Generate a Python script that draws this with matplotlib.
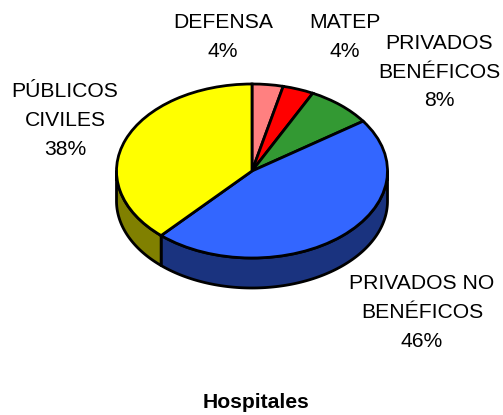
import numpy as np
import matplotlib
matplotlib.use("Agg")
import matplotlib.pyplot as plt

categories = ["DEFENSA", "MATEP", "PRIVADOS\nBENÉFICOS", "PRIVADOS NO\nBENÉFICOS", "PÚBLICOS\nCIVILES"]
values = [3.7, 3.7, 7.9, 46.4, 38.3]
shown_pct = ["4%", "4%", "8%", "46%", "38%"]
top_colors = ["#FF8080", "#FF0000", "#339933", "#3366FF", "#FFFF00"]
side_colors = ["#804040", "#800000", "#1A4D1A", "#1A337F", "#808000"]
title = "Hospitales"

W, H = 503, 415
CX, CY, RX, RY, DEPTH = 252, 171, 135.5, 87, 30
d = DEPTH / RY
FONT = "Liberation Sans"

fig = plt.figure(figsize=(W / 100, H / 100), dpi=100)
ax = fig.add_axes([0, 0, 1, 1])

wedges, _ = ax.pie(values, colors=top_colors, startangle=90, counterclock=False,
                   radius=1, center=(0, 0),
                   wedgeprops=dict(edgecolor="black", linewidth=2.0, zorder=5))
ax.set_aspect("auto")
ax.set_xlim(-CX / RX, (W - CX) / RX)
ax.set_ylim(-(H - CY) / RY, CY / RY)
ax.axis("off")

# side wall: the front part (lower half) of each slice, extruded downward
cum = np.concatenate([[0], np.cumsum(values)]) / np.sum(values) * 360
for i, c in enumerate(side_colors):
    a0, a1 = 90 - cum[i], 90 - cum[i + 1]      # clockwise from the top
    lo, hi = max(a1, -180), min(a0, 0)
    if lo >= hi:
        continue
    t = np.radians(np.linspace(hi, lo, 120))
    xs = np.concatenate([np.cos(t), np.cos(t[::-1])])
    ys = np.concatenate([np.sin(t), np.sin(t[::-1]) - d])
    ax.fill(xs, ys, facecolor=c, edgecolor="black", linewidth=2.0, zorder=2,
            joinstyle="round")

label_pos = [(223, 37), (345, 37), (439, 72), (422, 312.5), (65, 120.5)]
for name, pct, (px, py) in zip(categories, shown_pct, label_pos):
    ax.text((px - CX) / RX, (CY - py) / RY, f"{name}\n{pct}", ha="center", va="center",
            family=FONT, fontsize=15.2, linespacing=1.65, color="black", zorder=6)

ax.text((256 - CX) / RX, (CY - 402) / RY, title, ha="center", va="center",
        family=FONT, fontsize=15.2, fontweight="bold", color="black")

fig.savefig("out.png", dpi=100, facecolor="white")
